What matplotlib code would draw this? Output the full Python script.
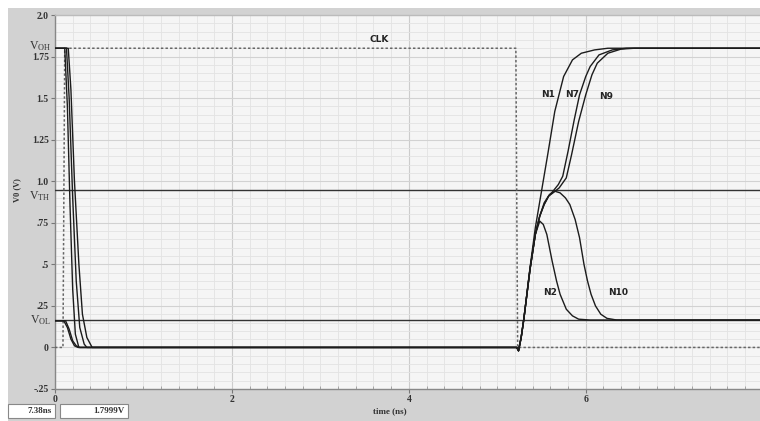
import matplotlib
matplotlib.use("Agg")
import matplotlib.pyplot as plt
from matplotlib.patches import Rectangle
from matplotlib.ticker import MultipleLocator, FixedLocator

# ── waveforms (time in ns, voltage in V) ────
CLK_T = [0, 0.09, 0.11, 5.21, 5.23, 7.97]
CLK_V = [0, 0, 1.8, 1.8, 0, 0]

N1_T = [0, 0.11, 0.14, 0.17, 0.20, 0.23, 0.27, 5.22, 5.24, 5.27, 5.30, 5.37, 5.43,
        5.50, 5.57, 5.65, 5.75, 5.85, 5.95, 6.10, 6.25, 7.97]
N1_V = [1.8, 1.8, 1.45, 0.85, 0.35, 0.08, 0, 0, -0.02, 0.06, 0.17, 0.48, 0.72,
        0.94, 1.16, 1.42, 1.63, 1.73, 1.77, 1.79, 1.8, 1.8]

N7_T = [0, 0.13, 0.16, 0.20, 0.24, 0.28, 0.33, 0.36, 5.22, 5.24, 5.27, 5.30, 5.37,
        5.43, 5.48, 5.53, 5.58, 5.63, 5.69, 5.74, 5.80, 5.87, 5.93, 6.00, 6.05,
        6.15, 6.30, 6.46, 7.97]
N7_V = [1.8, 1.8, 1.5, 0.9, 0.4, 0.12, 0.02, 0, 0, -0.02, 0.06, 0.17, 0.47,
        0.68, 0.79, 0.86, 0.91, 0.94, 0.98, 1.03, 1.18, 1.37, 1.52, 1.63, 1.69,
        1.76, 1.79, 1.8, 1.8]

N9_T = [0, 0.15, 0.18, 0.22, 0.27, 0.31, 0.36, 0.42, 5.22, 5.24, 5.27, 5.30, 5.37,
        5.43, 5.48, 5.53, 5.58, 5.63, 5.70, 5.78, 5.84, 5.92, 6.00, 6.07, 6.13,
        6.25, 6.40, 6.55, 7.97]
N9_V = [1.8, 1.8, 1.55, 1.0, 0.5, 0.2, 0.06, 0, 0, -0.02, 0.06, 0.17, 0.47,
        0.68, 0.79, 0.86, 0.91, 0.93, 0.96, 1.02, 1.16, 1.36, 1.52, 1.64, 1.71,
        1.77, 1.795, 1.8, 1.8]

N2_T = [0, 0.10, 0.14, 0.18, 0.22, 0.26, 5.22, 5.24, 5.27, 5.30, 5.37, 5.43, 5.48,
        5.52, 5.56, 5.62, 5.67, 5.71, 5.78, 5.85, 5.92, 6.05, 7.97]
N2_V = [0.16, 0.16, 0.12, 0.05, 0.01, 0, 0, -0.02, 0.06, 0.17, 0.47, 0.68, 0.76,
        0.74, 0.68, 0.52, 0.40, 0.32, 0.23, 0.19, 0.17, 0.165, 0.165]

N10_T = [0, 0.12, 0.16, 0.20, 0.24, 0.28, 5.22, 5.24, 5.27, 5.30, 5.37, 5.43, 5.48,
         5.53, 5.59, 5.65, 5.71, 5.77, 5.82, 5.88, 5.93, 5.98, 6.02, 6.06, 6.11,
         6.17, 6.24, 6.35, 7.97]
N10_V = [0.16, 0.16, 0.11, 0.04, 0.01, 0, 0, -0.02, 0.06, 0.17, 0.47, 0.68, 0.79,
         0.87, 0.92, 0.94, 0.93, 0.90, 0.86, 0.77, 0.66, 0.50, 0.40, 0.32, 0.25,
         0.20, 0.175, 0.165, 0.165]

V_OH, V_TH, V_OL = 1.8, 0.945, 0.163
Y_TICKS = [-0.25, 0, 0.25, 0.5, 0.75, 1.0, 1.25, 1.5, 1.75, 2.0]
Y_TICKLABELS = ["-.25", "0", ".25", ".5", ".75", "1.0", "1.25", "1.5", "1.75", "2.0"]
X_TICKS = [0, 2, 4, 6]

# label name, t, v
NODE_LABELS = [("CLK", 3.56, 1.85), ("N1", 5.50, 1.52), ("N7", 5.77, 1.52),
               ("N9", 6.15, 1.51), ("N2", 5.52, 0.33), ("N10", 6.25, 0.33)]

W, H = 760, 421
fig = plt.figure(figsize=(W / 100, H / 100), dpi=100, facecolor="white")
fig.patches.append(Rectangle((8 / W, 0), 1, 1 - 8 / H, transform=fig.transFigure,
                             facecolor="#d2d2d2", edgecolor="none", zorder=-10))
ax = fig.add_axes([55 / W, 32 / H, 705 / W, 374 / H])
ax.set_facecolor("#f5f5f5")

SERIF = ["Liberation Serif", "DejaVu Serif"]
INK = "#1c1c1c"

ax.axhline(V_TH, color="#333333", lw=1.0, zorder=3)
ax.axhline(V_OL, color="#333333", lw=1.0, zorder=3)
ax.plot(CLK_T, CLK_V, color="#666666", lw=1.1, ls=(0, (1.6, 1.4)), zorder=4)
for t, v in [(N1_T, N1_V), (N7_T, N7_V), (N9_T, N9_V), (N2_T, N2_V), (N10_T, N10_V)]:
    ax.plot(t, v, color=INK, lw=1.0, zorder=5)

for name, t, v in NODE_LABELS:
    ax.text(t, v, name, fontsize=6.5, fontweight="bold", color="#222222",
            ha="left", va="center", zorder=6)

ax.set_xlim(0, 7.97)
ax.set_ylim(-0.25, 2.0)
ax.xaxis.set_major_locator(FixedLocator(X_TICKS))
ax.xaxis.set_minor_locator(MultipleLocator(0.2))
ax.yaxis.set_major_locator(FixedLocator(Y_TICKS))
ax.yaxis.set_minor_locator(MultipleLocator(0.05))
ax.set_yticklabels(Y_TICKLABELS)
ax.grid(which="minor", color="#e3e3e3", lw=0.6)
ax.grid(which="major", color="#d2d2d2", lw=0.8)
ax.xaxis.grid(True, which="major", color="#cccccc", lw=0.8)
ax.set_axisbelow(True)
ax.tick_params(axis="both", which="major", labelsize=7, length=3, width=0.8,
               color="#777777", pad=1.5)
ax.tick_params(axis="x", which="minor", direction="in", length=2.5, color="#999999")
ax.tick_params(axis="y", which="minor", length=0)
for lab in ax.get_xticklabels() + ax.get_yticklabels():
    lab.set_fontweight("bold")
    lab.set_family(SERIF)
    lab.set_color("#333333")
for side, sp in ax.spines.items():
    sp.set_color("#888888" if side in ("bottom", "left") else "#bbbbbb")
    sp.set_linewidth(1.0)
ax.spines["right"].set_visible(False)

# logic-level markers on the y axis
for txt, v in [("OH", V_OH + 0.01), ("TH", V_TH - 0.035), ("OL", V_OL)]:
    ax.text(-0.006, v, r"$\mathregular{V_{%s}}$" % txt, transform=ax.get_yaxis_transform(),
            ha="right", va="center", fontsize=8.5, family=SERIF, color="#333333")

fig.text(17 / W, 1 - 190 / H, "V0 (V)", rotation=90, ha="center", va="center",
         fontsize=6, fontweight="bold", family=SERIF, color="#333333")
fig.text(390 / W, 1 - 411 / H, "time (ns)", ha="center", va="center",
         fontsize=6.5, fontweight="bold", family=SERIF, color="#333333")

# cursor readout boxes
for x0, x1, txt in [(8, 55, "7.38ns"), (60, 128, "1.7999V")]:
    fig.patches.append(Rectangle((x0 / W, 3 / H), (x1 - x0) / W, 14 / H,
                                 transform=fig.transFigure, facecolor="white",
                                 edgecolor="#888888", lw=0.8))
    fig.text((x1 - 3) / W, 10 / H, txt, ha="right", va="center", fontsize=6.5,
             fontweight="bold", family=SERIF, color="#333333")

fig.savefig("out.png", dpi=100, facecolor=fig.get_facecolor())
